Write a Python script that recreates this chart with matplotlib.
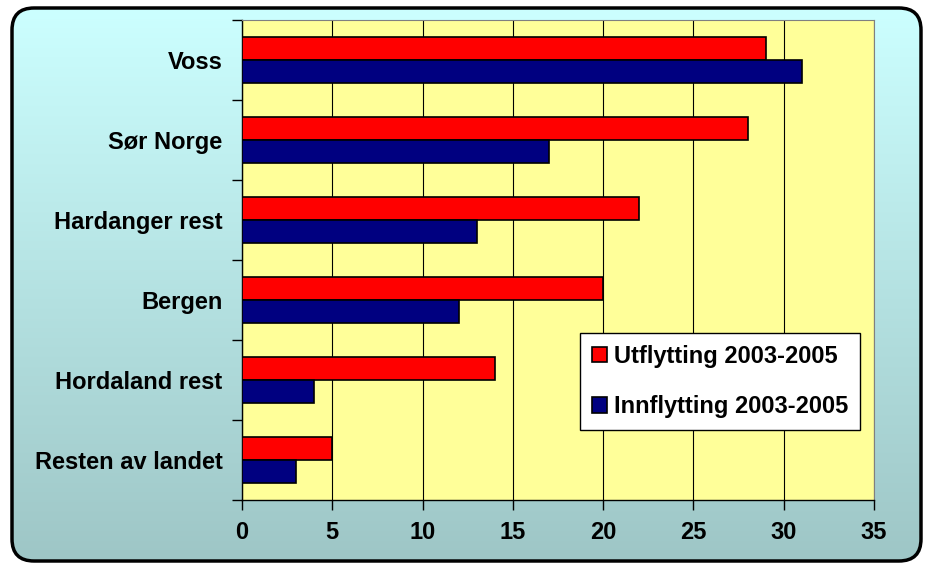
import numpy as np
import matplotlib
matplotlib.use("Agg")
import matplotlib.pyplot as plt
from matplotlib.patches import FancyBboxPatch

categories = ["Voss", "Sør Norge", "Hardanger rest", "Bergen", "Hordaland rest", "Resten av landet"]
utflytting = [29, 28, 22, 20, 14, 5]
innflytting = [31, 17, 13, 12, 4, 3]
series_labels = ["Utflytting 2003-2005", "Innflytting 2003-2005"]
xticks = [0, 5, 10, 15, 20, 25, 30, 35]

plt.rcParams['font.family'] = ['Liberation Sans', 'DejaVu Sans']
plt.rcParams['font.weight'] = 'bold'

FS = 17
W, H = 925, 565
fig = plt.figure(figsize=(W/100, H/100), dpi=100)
fig.patch.set_facecolor('white')

# background with gradient and rounded border
bg = fig.add_axes([0, 0, 1, 1], zorder=-10)
bg.set_xlim(0, W); bg.set_ylim(0, H)
bg.axis('off')
grad = np.linspace(0, 1, 256).reshape(-1, 1)
top = np.array([0xCC, 0xFF, 0xFF]) / 255
bot = np.array([0x9E, 0xC6, 0xC6]) / 255
img = top[None, None, :] * (1 - grad[:, :, None]) + bot[None, None, :] * grad[:, :, None]
box = FancyBboxPatch((12, 4), W - 16, H - 12, boxstyle="round,pad=0,rounding_size=22",
                     facecolor='none', edgecolor='black', linewidth=2.5, zorder=5)
bg.add_patch(box)
im = bg.imshow(img, extent=[12, W - 4, 4, H - 8], aspect='auto', origin='upper', zorder=1)
im.set_clip_path(box)

ax = fig.add_axes([242/W, 65/H, 632/W, 480/H])
ax.set_facecolor('#FFFF99')
y = np.arange(len(categories))
h = 0.285
ax.barh(y - h/2, utflytting, height=h, color='#FF0000', edgecolor='black', linewidth=1.2,
        label=series_labels[0], zorder=3)
ax.barh(y + h/2, innflytting, height=h, color='#000080', edgecolor='black', linewidth=1.2,
        label=series_labels[1], zorder=3)
ax.set_ylim(len(categories) - 0.5, -0.5)
ax.set_xlim(0, 35)
ax.set_xticks(xticks)
ax.set_xticklabels([str(t) for t in xticks], fontsize=FS, fontweight='bold')
ax.set_yticks(y)
ax.set_yticklabels(categories, fontsize=FS, fontweight='bold')
ax.set_yticks(np.arange(-0.5, len(categories), 1), minor=True)
ax.tick_params(axis='y', which='major', length=0, pad=14)
ax.tick_params(axis='y', which='minor', length=7, width=1, direction='out')
ax.tick_params(axis='x', which='major', length=7, width=1, direction='out', pad=8)
ax.grid(axis='x', color='black', linewidth=0.8, zorder=1)
ax.set_axisbelow(True)
for s in ['top', 'right']:
    ax.spines[s].set_color('#808080')
for s in ['left', 'bottom']:
    ax.spines[s].set_color('black')
    ax.spines[s].set_linewidth(1)

leg = ax.legend(loc='upper left', bbox_to_anchor=(0.535, 0.348), fontsize=FS,
                frameon=True, fancybox=False, edgecolor='black', framealpha=1,
                handlelength=0.65, handleheight=0.65, handletextpad=0.3,
                labelspacing=1.15, borderpad=0.5, borderaxespad=0)
leg.get_frame().set_linewidth(1)
leg.set_zorder(10)
for t in leg.get_texts():
    t.set_fontweight('bold')

fig.savefig('out.png', dpi=100)
